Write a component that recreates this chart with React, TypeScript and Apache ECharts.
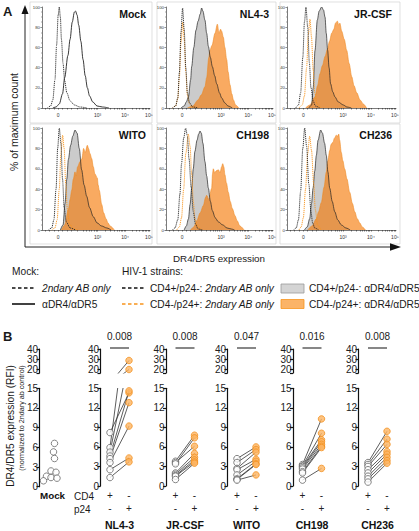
import React, { useEffect, useRef } from 'react';
import * as echarts from 'echarts';

const FONT = '"Liberation Sans", Arial, Helvetica, sans-serif';

// ---------- Panel A : histograms (x in display units of the biexponential axis, y = % of max) ----------
const histTickPos = [15, 51.5, 77, 99];
const histTickLabels = ['0', '10³', '10⁴', '10⁵'];
const histMinorTicks = [3, 7, 11, 15, 19, 23, 27, 33, 38, 41, 44, 46, 48, 49.8, 51.5, 59, 63.5, 67, 69.3, 71.3, 73, 74.5, 75.8, 77, 83.6, 87.5, 90.2, 92.4, 94.1, 95.6, 96.9, 98, 99];
const histPanelNames = ['Mock', 'NL4-3', 'JR-CSF', 'WITO', 'CH198', 'CH236'];

const mockSecondary = [[5, 0], [8, 2], [10, 8], [12, 28], [13.5, 62], [15, 92], [16, 100], [17, 90], [18, 68], [19.5, 44], [21, 27], [23, 15], [26, 7], [30, 3], [35, 1], [42, 0]];
const mockDR = [[10, 0], [13, 1], [16, 4], [19, 14], [21, 30], [24, 52], [26, 68], [28, 85], [30, 95], [31, 96], [32.5, 92], [34, 82], [36, 66], [38, 48], [40, 32], [42, 20], [44, 12], [47, 6], [51, 2], [56, 1], [62, 0]];

const nl43Secondary = [[6, 0], [9, 2], [11, 10], [12.5, 35], [14, 75], [15.5, 99], [17, 78], [18.5, 40], [20, 15], [22, 5], [25, 1], [30, 0]];
const nl43SecondaryP24 = [[6, 0], [9, 2], [11, 9], [12.5, 30], [14, 65], [15.7, 85], [17, 68], [18.5, 35], [20, 13], [22, 4], [25, 1], [30, 0]];
const nl43CD4DR = [[14, 0], [17, 2], [19, 6], [21, 11], [23, 28], [24, 41], [26, 60], [28, 77], [30, 86], [32, 93], [33.3, 99], [34.5, 96], [36.4, 87], [38, 74], [39.6, 61], [41.5, 50], [43.3, 41], [45.5, 32], [47.4, 24], [50, 15], [52, 10], [55, 5], [58, 2], [62, 0]];
const nl43P24DR = [[20, 0], [25, 2], [30, 8], [33, 13], [36.4, 21], [38, 30], [40, 50], [41, 57], [43, 62], [45.8, 74], [48, 83], [49.5, 74], [51, 78], [52, 76], [53.6, 70], [55, 60], [56.7, 48], [58, 36], [59.8, 23], [61.5, 14], [63, 8], [65, 3], [68, 0]];

const jrcsfSecondary = [[8, 0], [10.5, 3], [12.5, 15], [14.5, 50], [16, 85], [17.4, 100], [19, 80], [20.5, 45], [22, 20], [24, 7], [26, 2], [30, 0]];
const jrcsfSecondaryP24 = [[11, 0], [14, 3], [16, 12], [18, 40], [19.5, 72], [21.1, 88], [22.5, 70], [24, 38], [25.5, 15], [27.5, 4], [31, 0]];
const jrcsfCD4DR = [[20, 0], [22.6, 3], [24, 20], [25.7, 57], [27.8, 87], [29.5, 96], [31.8, 100], [33.5, 97], [34.9, 90], [36, 74], [37.3, 57], [38.6, 40], [40, 24], [42, 16], [44, 11], [47, 6], [51.7, 3], [55, 1], [59, 0]];
const jrcsfP24DR = [[17, 0], [21, 3], [25.7, 11], [28, 22], [30.3, 34], [32.5, 42], [34.9, 51], [37, 58], [39, 66], [41, 74], [43, 78], [44.5, 84], [46.2, 86], [47.5, 82], [48.5, 84], [50.2, 76], [52.5, 68], [54.8, 57], [57, 44], [59.4, 31], [61.5, 22], [64, 15], [67, 8], [70, 4], [73, 0]];

const witoSecondary = [[6, 0], [9, 2], [11, 10], [13, 40], [14.5, 80], [16, 100], [17.5, 85], [19, 50], [20.5, 22], [22.5, 8], [26, 2], [31, 0]];
const witoSecondaryP24 = [[9, 0], [12, 2], [14, 10], [16, 40], [17.5, 75], [19.1, 93], [20.5, 80], [22, 45], [23.5, 20], [25.5, 6], [29, 1], [33, 0]];
const witoCD4DR = [[17, 0], [19.5, 5], [21.3, 26], [23, 50], [24.4, 69], [26.5, 83], [28.5, 92], [30.6, 98], [32.5, 95], [34.5, 80], [36.7, 59], [39, 44], [41.4, 33], [44, 22], [47.5, 13], [51, 7], [55, 4], [60, 2], [64, 0]];
const witoP24DR = [[18, 0], [21, 5], [24.4, 20], [26, 30], [27.5, 39], [29, 50], [30.6, 57], [31.5, 53], [33, 62], [35.2, 67], [37, 70], [38.5, 80], [40, 76], [42, 83], [43, 80], [44.4, 75], [46, 70], [47.5, 62], [49, 55], [51.2, 51], [52, 44], [53, 39], [55.3, 25], [57, 17], [59.3, 11], [61, 7], [63, 4], [67, 0]];

const ch198Secondary = [[6, 0], [8.4, 2], [11, 10], [13, 35], [14.5, 65], [16.5, 90], [18.4, 100], [20, 92], [21.5, 70], [23.5, 42], [25.5, 18], [27.5, 6], [30, 1], [34, 0]];
const ch198SecondaryP24 = [[10, 0], [12.5, 3], [14.5, 12], [16.5, 40], [18.5, 75], [20.9, 94], [22.5, 82], [24, 55], [25.5, 28], [27, 12], [29, 4], [33, 0]];
const ch198CD4DR = [[17, 0], [19, 4], [21, 11], [22.5, 25], [24, 41], [25.5, 60], [27, 77], [29, 88], [30.5, 94], [31.8, 97], [33, 95], [34.5, 85], [36.4, 67], [38, 53], [39.6, 41], [41.5, 28], [43.3, 19], [46, 12], [48.9, 8], [53, 5], [57, 2], [61, 1], [64, 0]];
const ch198P24DR = [[23, 0], [26, 3], [28.7, 9], [32, 17], [34.9, 24], [37, 32], [38, 34], [40, 30], [42.7, 41], [43.5, 55], [44.2, 60], [45.5, 56], [47, 58], [49, 59], [50.5, 56], [52, 62], [53, 65], [54, 62], [55.1, 54], [56.5, 46], [58.2, 37], [60, 28], [62, 21], [64.5, 14], [66.5, 9], [69, 4], [73, 0]];

const ch236Secondary = [[6, 0], [8.5, 2], [10.5, 10], [12.5, 38], [14.5, 80], [16.2, 100], [18, 82], [20, 45], [22, 18], [23.5, 7], [25.4, 2], [29, 0]];
const ch236SecondaryP24 = [[11, 0], [13, 3], [15, 12], [17, 40], [19, 75], [20.8, 92], [22.5, 78], [24.5, 45], [26, 20], [28, 5], [31, 0]];
const ch236CD4DR = [[16, 0], [18.5, 3], [20.8, 11], [22.5, 26], [23.9, 41], [25.5, 58], [26.9, 73], [28.5, 88], [30.9, 98], [32.5, 95], [34.5, 85], [36.1, 73], [37.5, 57], [39.2, 41], [41.5, 28], [43.8, 18], [46.5, 10], [49.8, 5], [54, 2], [58, 0]];
const ch236P24DR = [[19, 0], [23, 4], [26.9, 11], [29, 18], [31.5, 27], [34, 42], [36.1, 57], [37.5, 68], [39.2, 78], [40.5, 84], [42.2, 86], [43.5, 90], [45.3, 93], [46.5, 92], [47.5, 94], [48.3, 88], [49.8, 76], [51.2, 68], [52.9, 60], [55, 50], [57.5, 37], [60, 26], [62.1, 18], [64.5, 11], [66.7, 7], [69, 3], [72, 0]];

// ---------- Panel B : RFI values ----------
const bConditions = ['CD4+/p24-', 'CD4-/p24+'];
const bRowCD4 = ['+', '-'];
const bRowP24 = ['-', '+'];
const bStrainNames = ['NL4-3', 'JR-CSF', 'WITO', 'CH198', 'CH236'];
const pValues = ['0.008', '0.008', '0.047', '0.016', '0.008'];

const mockRFI = [6.6, 5.3, 4.3, 2.4, 2.2, 1.6, 1.4, 1.3, 0.9];
const mockJitter = [2, 1, 2, -1.5, 3.5, -6, -1.5, 4.5, -9];

const nl43CD4 = [8.2, 5.9, 5.2, 4.6, 4.2, 3.6, 2.5, 1.3];
const nl43P24 = [14.3, 28.5, 19.5, 14.6, 12.8, 9.2, 4.3, 3.7];
const jrcsfCD4 = [3.8, 3.6, 3.4, 2.0, 1.8, 1.6, 1.5, 1.0];
const jrcsfP24 = [7.8, 6.1, 7.4, 5.0, 4.4, 4.0, 3.7, 3.5];
const witoCD4 = [4.2, 3.6, 2.7, 2.5, 1.7, 1.1, 1.0, 0.9];
const witoP24 = [6.0, 5.6, 5.2, 4.1, 3.8, 3.4, 3.3, 1.7];
const ch198CD4 = [3.3, 3.1, 3.0, 2.8, 2.6, 2.2, 2.0, 0.9];
const ch198P24 = [10.3, 8.1, 7.1, 6.8, 6.4, 6.1, 5.9, 2.7];
const ch236CD4 = [3.6, 3.3, 3.0, 2.5, 2.0, 1.5, 1.1, 0.6];
const ch236P24 = [8.4, 7.2, 6.4, 5.3, 4.9, 4.4, 3.9, 3.5];

const lowerTicksMax = 15;
const upperLabels = [20, 30, 40];
const upperTicks = [16, 20, 30, 40];
const sigBarLevel = 41;

// ---------- layout ----------
const histCols = [{ left: 42, width: 108 }, { left: 166, width: 107 }, { left: 287, width: 109 }];
const histRows = [{ top: 7, height: 101 }, { top: 128, height: 102 }];
const panelBoxX = [[30, 152], [157, 276], [280, 400]];
const panelBoxY = [[2, 123], [124, 244]];
const bAxisX = [39.5, 100.5, 166, 227.5, 293, 358.5];
const bMockWidth = 26;
const bPairWidth = 38;

const GRAY_FILL = '#cbcbcb';
const ORANGE_AREA = 'rgba(245,118,0,0.62)';
const ORANGE_LINE = '#ef8a22';
const ORANGE_DASH = '#f7941d';

function buildOption() {
  const grid: any[] = [];
  const xAxis: any[] = [];
  const yAxis: any[] = [];
  const series: any[] = [];
  const graphic: any[] = [];

  const strainHist = [
    { sec: nl43Secondary, secP24: nl43SecondaryP24, cd4: nl43CD4DR, p24: nl43P24DR },
    { sec: jrcsfSecondary, secP24: jrcsfSecondaryP24, cd4: jrcsfCD4DR, p24: jrcsfP24DR },
    { sec: witoSecondary, secP24: witoSecondaryP24, cd4: witoCD4DR, p24: witoP24DR },
    { sec: ch198Secondary, secP24: ch198SecondaryP24, cd4: ch198CD4DR, p24: ch198P24DR },
    { sec: ch236Secondary, secP24: ch236SecondaryP24, cd4: ch236CD4DR, p24: ch236P24DR },
  ];

  const lineBase = { type: 'line', symbol: 'none', smooth: 0.3, smoothMonotone: 'x', silent: true };

  histPanelNames.forEach((name, p) => {
    const col = p % 3;
    const row = Math.floor(p / 3);
    const c = histCols[col];
    const r = histRows[row];
    const gi = grid.length;
    grid.push({ left: c.left, top: r.top, width: c.width, height: r.height });
    xAxis.push({
      type: 'value', gridIndex: gi, min: 0, max: 100,
      axisLine: { onZero: false, lineStyle: { color: '#222', width: 0.6 } },
      axisTick: { show: true, customValues: histMinorTicks, length: 1.6, lineStyle: { color: '#222', width: 0.5 } },
      axisLabel: {
        customValues: histTickPos,
        formatter: (v: number) => {
          const i = histTickPos.findIndex((t) => Math.abs(t - v) < 0.01);
          return i >= 0 ? histTickLabels[i] : '';
        },
        fontSize: 5, margin: 4, color: '#333', fontFamily: FONT,
      },
      splitLine: { show: false },
    });
    yAxis.push({
      type: 'value', gridIndex: gi, min: 0, max: 100, interval: 20,
      axisLine: { show: true, onZero: false, lineStyle: { color: '#222', width: 0.6 } },
      axisTick: { show: true, length: 1.6, lineStyle: { color: '#222', width: 0.5 } },
      minorTick: { show: true, splitNumber: 4, length: 1, lineStyle: { color: '#222', width: 0.4 } },
      axisLabel: { fontSize: 4.3, margin: 2, color: '#333', fontFamily: FONT },
      splitLine: { show: false }, minorSplitLine: { show: false },
    });

    if (p === 0) {
      series.push({ ...lineBase, xAxisIndex: gi, yAxisIndex: gi, data: mockSecondary, z: 4, lineStyle: { color: '#222', width: 0.9, type: [1.2, 0.8] } });
      series.push({ ...lineBase, xAxisIndex: gi, yAxisIndex: gi, data: mockDR, z: 4, lineStyle: { color: '#222', width: 0.9 } });
    } else {
      const h = strainHist[p - 1];
      series.push({ ...lineBase, xAxisIndex: gi, yAxisIndex: gi, data: h.cd4, z: 1, lineStyle: { width: 0 }, areaStyle: { color: GRAY_FILL, opacity: 1 } });
      series.push({ ...lineBase, xAxisIndex: gi, yAxisIndex: gi, data: h.p24, z: 2, lineStyle: { color: ORANGE_LINE, width: 0.6 }, areaStyle: { color: ORANGE_AREA, opacity: 1 } });
      series.push({ ...lineBase, xAxisIndex: gi, yAxisIndex: gi, data: h.cd4, z: 3, lineStyle: { color: '#222', width: 0.7 } });
      series.push({ ...lineBase, xAxisIndex: gi, yAxisIndex: gi, data: h.secP24, z: 4, lineStyle: { color: ORANGE_DASH, width: 0.9, type: [1.2, 0.8] } });
      series.push({ ...lineBase, xAxisIndex: gi, yAxisIndex: gi, data: h.sec, z: 4, lineStyle: { color: '#222', width: 0.9, type: [1.2, 0.8] } });
    }

    graphic.push({
      type: 'rect', silent: true,
      shape: { x: panelBoxX[col][0], y: panelBoxY[row][0], width: panelBoxX[col][1] - panelBoxX[col][0], height: panelBoxY[row][1] - panelBoxY[row][0] },
      style: { fill: 'none', stroke: '#d2d2d2', lineWidth: 0.7 },
    });
    graphic.push({
      type: 'text', silent: true, x: c.left + c.width - 4, y: r.top + 7,
      style: { text: name, align: 'right', verticalAlign: 'middle', fontSize: 10.5, fontWeight: 'bold', fontFamily: FONT, fill: '#111' },
    });
  });

  // big axes of panel A
  graphic.push({ type: 'line', silent: true, shape: { x1: 25, y1: 12, x2: 25, y2: 247 }, style: { stroke: '#222', lineWidth: 1 } });
  graphic.push({ type: 'polygon', silent: true, shape: { points: [[25, 5], [21.5, 14], [28.5, 14]] }, style: { fill: '#111' } });
  graphic.push({ type: 'line', silent: true, shape: { x1: 25, y1: 247, x2: 392, y2: 247 }, style: { stroke: '#222', lineWidth: 1 } });
  graphic.push({ type: 'polygon', silent: true, shape: { points: [[401, 247], [390, 243.3], [390, 250.7]] }, style: { fill: '#111' } });

  const txt = (text: string, x: number, y: number, extra: any = {}) => ({
    type: 'text', silent: true, x, y, rotation: extra.rotation || 0,
    style: { text, align: 'left', verticalAlign: 'middle', fontSize: 10.2, fontFamily: FONT, fill: '#1a1a1a', ...(extra.style || {}) },
  });

  graphic.push(txt('A', 3, 11, { style: { fontSize: 13, fontWeight: 'bold' } }));
  graphic.push(txt('% of maximum count', 14, 122, { rotation: Math.PI / 2, style: { align: 'center', fontSize: 10.5 } }));
  graphic.push(txt('DR4/DR5 expression', 219, 258, { style: { align: 'center', fontSize: 9.8 } }));

  // legend
  const rich = { n: { fontSize: 10.2, fontFamily: FONT, fill: '#1a1a1a' }, i: { fontSize: 10.2, fontFamily: FONT, fontStyle: 'italic', fill: '#1a1a1a' } };
  graphic.push(txt('Mock:', 12, 271));
  graphic.push(txt('HIV-1 strains:', 122, 271));
  graphic.push({ type: 'line', silent: true, shape: { x1: 12, y1: 288, x2: 34, y2: 288 }, style: { stroke: '#111', lineWidth: 1.6, lineDash: [3.5, 2.5] } });
  graphic.push(txt('2ndary AB only', 42, 288, { style: { fontStyle: 'italic' } }));
  graphic.push({ type: 'line', silent: true, shape: { x1: 12, y1: 304, x2: 35, y2: 304 }, style: { stroke: '#111', lineWidth: 1.6 } });
  graphic.push(txt('αDR4/αDR5', 42, 304));
  graphic.push({ type: 'line', silent: true, shape: { x1: 122, y1: 288, x2: 144, y2: 288 }, style: { stroke: '#111', lineWidth: 1.6, lineDash: [3.5, 2.5] } });
  graphic.push(txt('{n|CD4+/p24-: }{i|2ndary AB only}', 150, 288, { style: { rich } }));
  graphic.push({ type: 'line', silent: true, shape: { x1: 122, y1: 304, x2: 144, y2: 304 }, style: { stroke: ORANGE_DASH, lineWidth: 1.6, lineDash: [3.5, 2.5] } });
  graphic.push(txt('{n|CD4-/p24+: }{i|2ndary AB only}', 150, 304, { style: { rich } }));
  graphic.push({ type: 'rect', silent: true, shape: { x: 281, y: 284, width: 23, height: 9 }, style: { fill: '#d4d4d4', stroke: '#9a9a9a', lineWidth: 0.8 } });
  graphic.push(txt('CD4+/p24-: αDR4/αDR5', 309, 288));
  graphic.push({ type: 'rect', silent: true, shape: { x: 281, y: 299.5, width: 23, height: 9 }, style: { fill: '#fbb468', stroke: ORANGE_DASH, lineWidth: 0.8 } });
  graphic.push(txt('CD4-/p24+: αDR4/αDR5', 309, 304));

  // ---------- Panel B ----------
  graphic.push(txt('B', 3, 336, { style: { fontSize: 13, fontWeight: 'bold' } }));
  graphic.push(txt('DR4/DR5 expression (RFI)', 10.5, 426, { rotation: Math.PI / 2, style: { align: 'center', fontSize: 10.2 } }));
  graphic.push(txt('(normalized to 2ndary ab control)', 21, 418, { rotation: Math.PI / 2, style: { align: 'center', fontSize: 7.2 } }));
  graphic.push(txt('CD4', 74, 496, { style: { fontSize: 10 } }));
  graphic.push(txt('p24', 74, 509.5, { style: { fontSize: 10 } }));

  const bPairs = [
    { cd4: nl43CD4, p24: nl43P24 },
    { cd4: jrcsfCD4, p24: jrcsfP24 },
    { cd4: witoCD4, p24: witoP24 },
    { cd4: ch198CD4, p24: ch198P24 },
    { cd4: ch236CD4, p24: ch236P24 },
  ];

  const lowerTop = 388.3, lowerH = 98.4, upperTop = 349, upperH = 24;
  const axLine = { show: true, onZero: false, lineStyle: { color: '#111', width: 1.2 } };
  const axTick = { show: true, length: 3, lineStyle: { color: '#111', width: 1.2 } };
  const axLabel = { fontSize: 10, margin: 1.5, color: '#222', fontFamily: FONT };

  bAxisX.forEach((ax, g) => {
    const isMock = g === 0;
    const w = isMock ? bMockWidth : bPairWidth;
    const gl = grid.length;
    grid.push({ left: ax, top: lowerTop, width: w, height: lowerH });
    const gu = grid.length;
    grid.push({ left: ax, top: upperTop, width: w, height: upperH });
    const xBase: any = isMock ? { type: 'value', min: -13, max: 13 } : { type: 'category', data: bConditions, boundaryGap: true };
    xAxis.push({
      ...xBase, gridIndex: gl,
      axisLine: { show: false }, axisTick: { show: false }, splitLine: { show: false },
      axisLabel: isMock ? { show: false } : {
        formatter: (_v: string, idx: number) => bRowCD4[idx] + '\n' + bRowP24[idx],
        fontSize: 10, lineHeight: 13.5, margin: 2.5, color: '#222', fontFamily: FONT,
      },
      name: isMock ? 'Mock' : bStrainNames[g - 1], nameLocation: 'middle', nameGap: isMock ? 4 : 33,
      nameTextStyle: { fontWeight: 'bold', fontSize: isMock ? 9.8 : 10.5, color: '#111', fontFamily: FONT },
    });
    xAxis.push({ ...xBase, gridIndex: gu, show: false });
    yAxis.push({
      type: 'value', gridIndex: gl, min: 0, max: lowerTicksMax, interval: 3,
      axisLine: axLine, axisTick: axTick, axisLabel: axLabel, splitLine: { show: false },
    });
    yAxis.push({
      type: 'value', gridIndex: gu, min: upperTicks[0], max: upperLabels[upperLabels.length - 1],
      axisLine: axLine, axisTick: { ...axTick, customValues: upperTicks },
      axisLabel: { ...axLabel, customValues: upperLabels }, splitLine: { show: false },
    });

    if (isMock) {
      series.push({
        type: 'scatter', xAxisIndex: gl, yAxisIndex: gl, silent: true, z: 5,
        data: mockRFI.map((v, i) => [mockJitter[i], v]), symbolSize: 6.5,
        itemStyle: { color: '#fff', borderColor: '#666', borderWidth: 1 },
      });
      return;
    }
    const pr = bPairs[g - 1];
    pr.cd4.forEach((a, i) => {
      const b = pr.p24[i];
      [gl, gu].forEach((gg) => series.push({
        type: 'line', xAxisIndex: gg, yAxisIndex: gg, silent: true, z: 2, clip: true,
        data: [[0, a], [1, b]], symbol: 'none', lineStyle: { color: '#333', width: 0.8 },
      }));
    });
    [gl, gu].forEach((gg) => {
      series.push({
        type: 'scatter', xAxisIndex: gg, yAxisIndex: gg, silent: true, z: 5, clip: true,
        data: pr.cd4.map((v) => [0, v]), symbolSize: 6.5,
        itemStyle: { color: '#fff', borderColor: '#666', borderWidth: 1 },
      });
      series.push({
        type: 'scatter', xAxisIndex: gg, yAxisIndex: gg, silent: true, z: 5, clip: true,
        data: pr.p24.map((v) => [1, v]), symbolSize: 6.5,
        itemStyle: { color: '#fcb462', borderColor: '#f39121', borderWidth: 1 },
      });
    });
    series.push({
      type: 'line', xAxisIndex: gu, yAxisIndex: gu, silent: true, clip: false, z: 3,
      data: [[0, sigBarLevel], [1, sigBarLevel]], symbol: 'none', lineStyle: { color: '#111', width: 1.2 },
    });
    graphic.push(txt(pValues[g - 1], ax + w / 2, 336, { style: { align: 'center', fontSize: 10 } }));
  });

  return { animation: false, backgroundColor: '#fff', grid, xAxis, yAxis, series, graphic };
}

export default function App() {
  const ref = useRef<HTMLDivElement>(null);
  useEffect(() => {
    const chart = echarts.init(ref.current as HTMLDivElement, null, { renderer: 'svg' });
    chart.setOption(buildOption() as any);
    return () => chart.dispose();
  }, []);
  return <div ref={ref} style={{ position: 'fixed', left: 0, top: 0, width: 419, height: 531, background: '#fff' }} />;
}
